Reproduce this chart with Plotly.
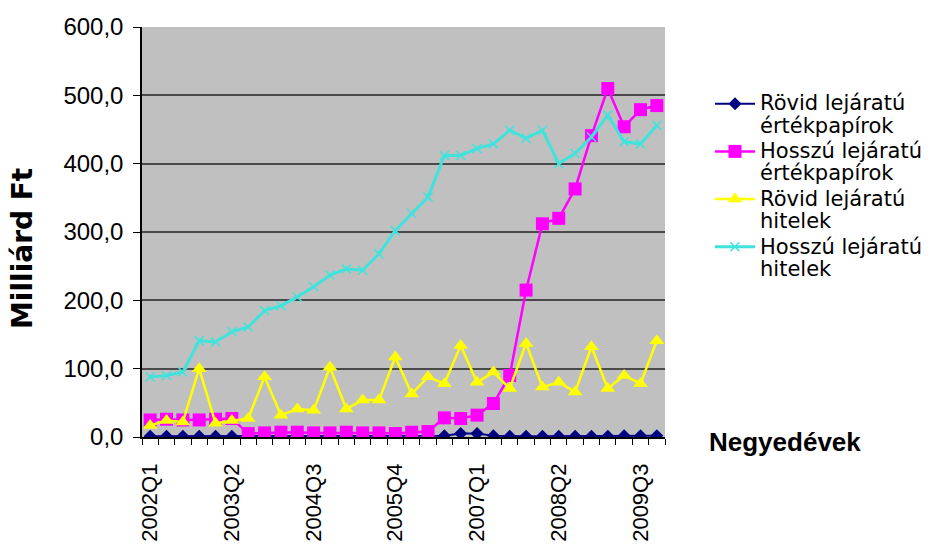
import plotly.graph_objects as go

# Quarterly categories (2002Q1 - 2009Q4)
quarters = [
    "2002Q1", "2002Q2", "2002Q3", "2002Q4",
    "2003Q1", "2003Q2", "2003Q3", "2003Q4",
    "2004Q1", "2004Q2", "2004Q3", "2004Q4",
    "2005Q1", "2005Q2", "2005Q3", "2005Q4",
    "2006Q1", "2006Q2", "2006Q3", "2006Q4",
    "2007Q1", "2007Q2", "2007Q3", "2007Q4",
    "2008Q1", "2008Q2", "2008Q3", "2008Q4",
    "2009Q1", "2009Q2", "2009Q3", "2009Q4",
]

# Series values, billion HUF
rovid_ertekpapir = [1, 1, 1, 1, 1, 1, 1, 1, 1, 1, 1, 1, 1, 1, 1, 1,
                    1, 1, 2, 5, 5, 2, 1, 1, 1, 1, 1, 1, 1, 2, 2, 2]
hosszu_ertekpapir = [25, 26, 25, 25, 26, 27, 5, 6, 7, 7, 6, 6, 7, 6, 6, 5,
                     7, 8, 28, 27, 32, 49, 90, 215, 312, 320, 363, 441, 510, 454, 479, 485]
rovid_hitel = [17, 24, 22, 100, 20, 24, 27, 88, 32, 41, 39, 102, 41, 54, 54, 117,
               63, 88, 78, 134, 80, 95, 71, 137, 73, 80, 66, 132, 71, 90, 78, 141]
hosszu_hitel = [88, 90, 95, 141, 139, 154, 161, 185, 192, 205, 220, 237, 246, 244, 268, 302,
                327, 351, 412, 412, 422, 429, 449, 437, 449, 400, 415, 439, 471, 432, 429, 456]

series_names = [
    "Rövid lejáratú<br>értékpapírok",
    "Hosszú lejáratú<br>értékpapírok",
    "Rövid lejáratú<br>hitelek",
    "Hosszú lejáratú<br>hitelek",
]
label_step = 5
y_ticks = [0, 100, 200, 300, 400, 500, 600]

W, H = 947, 546
L, R, T, B = 142, 282, 27, 109
PW, PH = W - L - R, H - T - B

def px_x(p):
    return (p - L) / PW

def px_y(p):
    return (H - B - p) / PH

pos = list(range(len(quarters)))

styles = [
    dict(color="#000080", symbol="diamond", size=10, lw=2),
    dict(color="#FF00FF", symbol="square", size=13, lw=2.5),
    dict(color="#FFFF00", symbol="triangle-up", size=13, lw=2.5),
    dict(color="#3FE3DC", symbol="x-thin", size=9, lw=3),
]
values = [rovid_ertekpapir, hosszu_ertekpapir, rovid_hitel, hosszu_hitel]

fig = go.Figure()
for name, vals, st in zip(series_names, values, styles):
    marker = dict(symbol=st["symbol"], size=st["size"], color=st["color"])
    if st["symbol"] == "x-thin":
        marker["line"] = dict(color=st["color"], width=1.5)
    else:
        marker["line"] = dict(width=0)
    fig.add_trace(go.Scatter(
        x=pos, y=vals, mode="lines+markers",
        name='<span style="font-size:21px">' + name + "</span>",
        line=dict(color=st["color"], width=st["lw"]),
        marker=marker,
    ))

tick_pos = pos[::label_step]
tick_txt = quarters[::label_step]

fig.update_layout(
    width=W, height=H,
    margin=dict(l=L, r=R, t=T, b=B, pad=0, autoexpand=False),
    paper_bgcolor="white",
    plot_bgcolor="#C0C0C0",
    separators=", ",
    font=dict(family="Liberation Sans, Arial", color="black"),
    xaxis=dict(
        range=[-0.5, len(quarters) - 0.5],
        tickvals=tick_pos, ticktext=tick_txt,
        tickangle=-90, ticks="", showgrid=False,
        tickfont=dict(size=22, family="Liberation Sans, Arial"),
        ticklabelstandoff=16,
        showline=True, linecolor="black", linewidth=1.5,
        zeroline=False,
        minor=dict(tick0=-0.5, dtick=1, ticks="outside", ticklen=6,
                   tickcolor="black", tickwidth=1, showgrid=False),
    ),
    yaxis=dict(
        range=[0, 600], tickvals=y_ticks, tickformat=".1f",
        ticks="outside", ticklen=7, tickcolor="black",
        tickfont=dict(size=24, family="Liberation Sans, Arial"),
        ticklabelstandoff=5,
        showgrid=True, gridcolor="#4A4A4A", gridwidth=1.5,
        showline=True, linecolor="black", linewidth=1.5,
        zeroline=False,
    ),
    legend=dict(
        x=px_x(710), y=px_y(86), xanchor="left", yanchor="top",
        font=dict(size=17.2, family="DejaVu Sans"),
        valign="top", bgcolor="rgba(0,0,0,0)",
        itemwidth=40, tracegroupgap=0,
    ),
    showlegend=True,
)

# Axis titles
fig.add_annotation(
    text="<b>Milliárd Ft</b>", textangle=-90,
    xref="paper", yref="paper", x=px_x(22), y=px_y(249),
    xanchor="center", yanchor="middle", showarrow=False,
    font=dict(size=28, family="DejaVu Sans"),
)
fig.add_annotation(
    text="<b>Negyedévek</b>",
    xref="paper", yref="paper", x=px_x(785), y=px_y(442),
    xanchor="center", yanchor="middle", showarrow=False,
    font=dict(size=26, family="Liberation Sans, Arial"),
)

fig.write_html("out.html")
